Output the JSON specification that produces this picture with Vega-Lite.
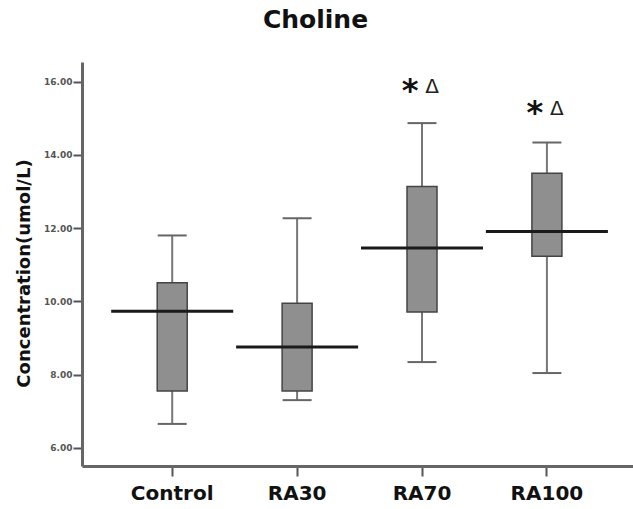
{
  "$schema": "https://vega.github.io/schema/vega-lite/v6.json",
  "width": 551,
  "height": 404,
  "autosize": "none",
  "padding": {"left": 82, "top": 62, "right": 0, "bottom": 43},
  "background": "white",
  "title": {
    "text": "Choline",
    "font": "DejaVu Sans",
    "fontSize": 25,
    "fontWeight": "bold",
    "color": "#111111",
    "anchor": "middle",
    "frame": "group",
    "dx": -42,
    "baseline": "alphabetic",
    "offset": 9
  },
  "config": {
    "view": {"stroke": null},
    "axis": {"grid": false}
  },
  "data": {
    "values": [
      {"group": "Control", "lo": 6.65, "q1": 7.55, "med": 9.73, "q3": 10.51, "hi": 11.80},
      {"group": "RA30", "lo": 7.30, "q1": 7.55, "med": 8.75, "q3": 9.95, "hi": 12.27},
      {"group": "RA70", "lo": 8.34, "q1": 9.71, "med": 11.46, "q3": 13.14, "hi": 14.87},
      {"group": "RA100", "lo": 8.04, "q1": 11.23, "med": 11.91, "q3": 13.50, "hi": 14.34}
    ]
  },
  "encoding": {
    "x": {
      "field": "group",
      "type": "nominal",
      "sort": ["Control", "RA30", "RA70", "RA100"],
      "scale": {"paddingInner": 0, "paddingOuter": 0.2058, "align": 0.54},
      "axis": {
        "title": null,
        "labelAngle": 0,
        "labelFont": "DejaVu Sans",
        "labelFontSize": 20,
        "labelFontWeight": "bold",
        "labelColor": "#111111",
        "labelPadding": 7,
        "tickSize": 10,
        "tickWidth": 2,
        "tickColor": "#555555",
        "domainColor": "#666666",
        "domainWidth": 3
      }
    }
  },
  "layer": [
    {
      "mark": {"type": "rule", "color": "#777777", "strokeWidth": 2},
      "encoding": {
        "y": {
          "field": "lo",
          "type": "quantitative",
          "scale": {"domain": [5.5, 16.54], "nice": false, "zero": false},
          "axis": {
            "title": "Concentration(umol/L)",
            "titleFont": "DejaVu Sans",
            "titleFontSize": 18,
            "titleFontWeight": "bold",
            "titleColor": "#111111",
            "titlePadding": 10,
            "titleY": 211,
            "values": [6, 8, 10, 12, 14, 16],
            "format": ".2f",
            "labelFont": "DejaVu Sans",
            "labelFontSize": 9,
            "labelFontWeight": "bold",
            "labelColor": "#555555",
            "labelPadding": 1,
            "tickSize": 9,
            "tickWidth": 2,
            "tickColor": "#555555",
            "domainColor": "#666666",
            "domainWidth": 3
          }
        },
        "y2": {"field": "hi"}
      }
    },
    {
      "mark": {"type": "bar", "size": 30, "fill": "#8f8f8f", "stroke": "#444444", "strokeWidth": 1.5},
      "encoding": {
        "y": {"field": "q1", "type": "quantitative"},
        "y2": {"field": "q3"}
      }
    },
    {
      "mark": {"type": "tick", "size": 29, "thickness": 2, "color": "#666666", "opacity": 1},
      "encoding": {"y": {"field": "lo", "type": "quantitative"}}
    },
    {
      "mark": {"type": "tick", "size": 29, "thickness": 2, "color": "#666666", "opacity": 1},
      "encoding": {"y": {"field": "hi", "type": "quantitative"}}
    },
    {
      "mark": {"type": "tick", "size": 122, "thickness": 3, "color": "#1a1a1a", "opacity": 1},
      "encoding": {"y": {"field": "med", "type": "quantitative"}}
    },
    {
      "data": {
        "values": [
          {"group": "RA70", "ay": 15.88, "star": "*", "delta": "Δ"},
          {"group": "RA100", "ay": 15.28, "star": "*", "delta": "Δ"}
        ]
      },
      "mark": {"type": "text", "font": "DejaVu Sans", "fontSize": 32, "fontWeight": "bold", "color": "#111111", "baseline": "alphabetic", "dx": -12, "dy": 15},
      "encoding": {
        "y": {"field": "ay", "type": "quantitative"},
        "text": {"field": "star"}
      }
    },
    {
      "data": {
        "values": [
          {"group": "RA70", "ay": 15.88, "star": "*", "delta": "Δ"},
          {"group": "RA100", "ay": 15.28, "star": "*", "delta": "Δ"}
        ]
      },
      "mark": {"type": "text", "font": "DejaVu Sans", "fontSize": 20, "color": "#222222", "baseline": "middle", "dx": 10, "dy": 1},
      "encoding": {
        "y": {"field": "ay", "type": "quantitative"},
        "text": {"field": "delta"}
      }
    }
  ]
}
